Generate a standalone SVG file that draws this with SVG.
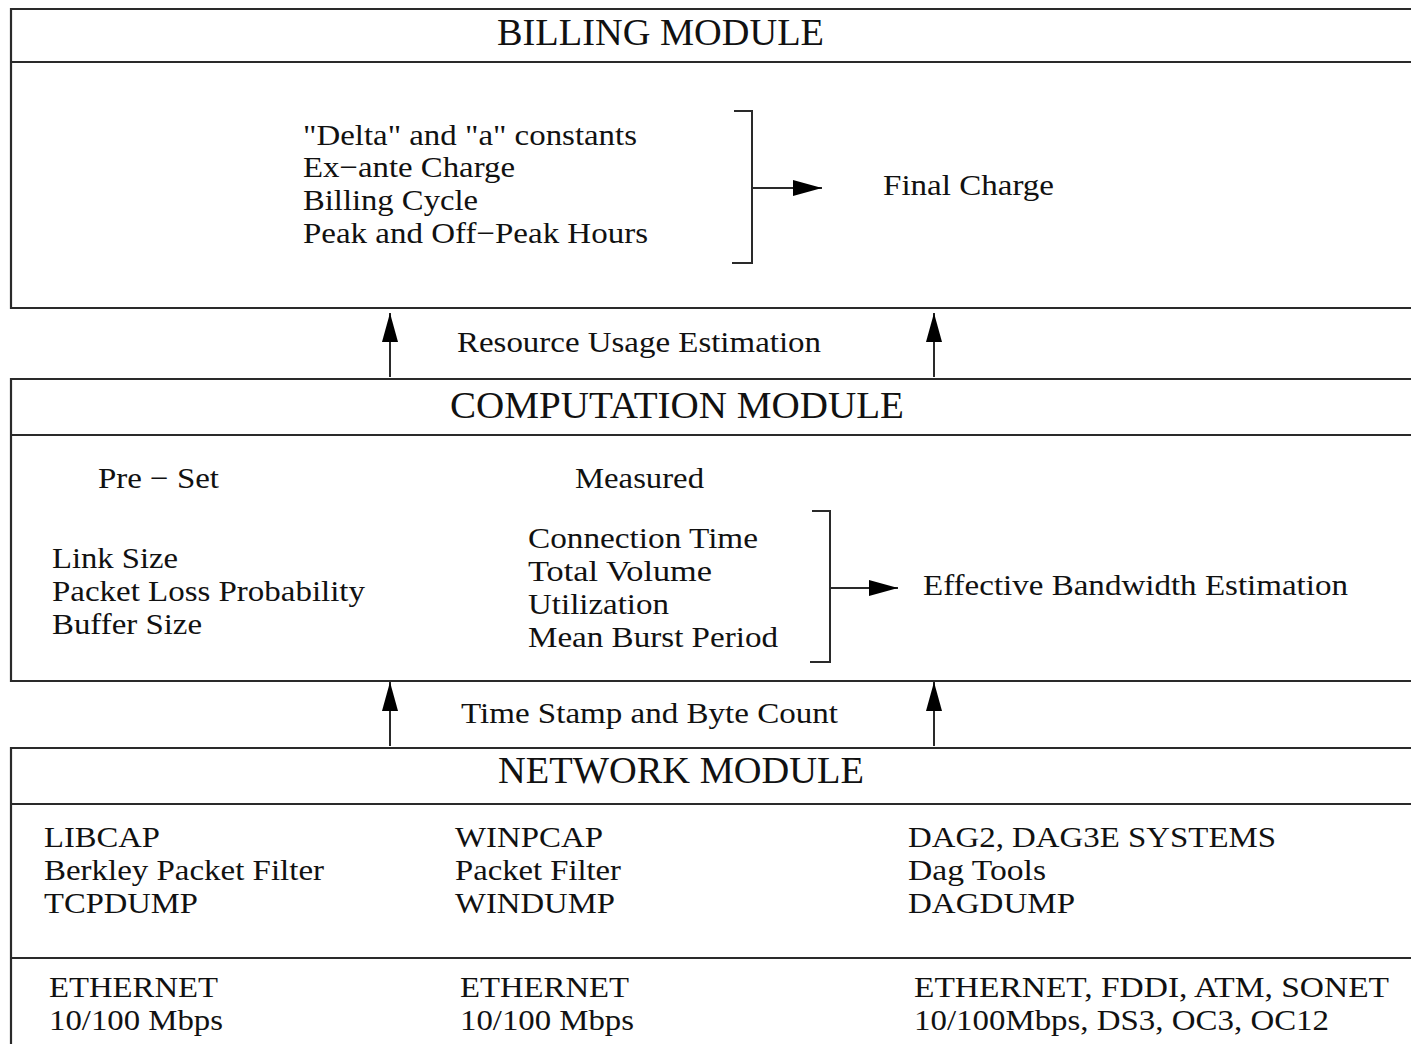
<svg xmlns="http://www.w3.org/2000/svg" width="1411" height="1044" viewBox="0 0 1411 1044">
<style>
.box{fill:none;stroke:#2a2a2a;stroke-width:2.2}
.ln{fill:none;stroke:#2a2a2a;stroke-width:2}
.t{font-family:"Liberation Serif","Times New Roman",serif;font-size:30px;fill:#111}
.h{font-family:"Liberation Serif","Times New Roman",serif;font-size:38px;fill:#111}
</style>
<defs>
<marker id="ah" markerWidth="29" markerHeight="16" refX="29" refY="8" orient="auto" markerUnits="userSpaceOnUse">
<path d="M0,0 L29,8 L0,16 Z" fill="#000"/>
</marker>
</defs>
<rect width="1411" height="1044" fill="#fff"/>
<g id="billing">
<path class="box" d="M1413,9 H11 V308 H1413 M11,62 H1413"/>
<text class="h" x="497" y="45" textLength="327" lengthAdjust="spacingAndGlyphs">BILLING MODULE</text>
<text class="t" x="303" y="145" textLength="334" lengthAdjust="spacingAndGlyphs">"Delta" and "a" constants</text>
<text class="t" x="303" y="177" textLength="212" lengthAdjust="spacingAndGlyphs">Ex−ante Charge</text>
<text class="t" x="303" y="210" textLength="175" lengthAdjust="spacingAndGlyphs">Billing Cycle</text>
<text class="t" x="303" y="243" textLength="345" lengthAdjust="spacingAndGlyphs">Peak and Off−Peak Hours</text>
<path class="ln" d="M734,111 H752 V263 H732"/>
<text class="t" x="883" y="195" textLength="171" lengthAdjust="spacingAndGlyphs">Final Charge</text>
</g>
<g id="computation">
<path class="box" d="M1413,379 H11 V681 H1413 M11,435 H1413"/>
<text class="h" x="450" y="418" textLength="454" lengthAdjust="spacingAndGlyphs">COMPUTATION MODULE</text>
<text class="t" x="98" y="488" textLength="121" lengthAdjust="spacingAndGlyphs">Pre − Set</text>
<text class="t" x="575" y="488" textLength="129" lengthAdjust="spacingAndGlyphs">Measured</text>
<text class="t" x="52" y="568" textLength="126" lengthAdjust="spacingAndGlyphs">Link Size</text>
<text class="t" x="52" y="601" textLength="313" lengthAdjust="spacingAndGlyphs">Packet Loss Probability</text>
<text class="t" x="52" y="634" textLength="150" lengthAdjust="spacingAndGlyphs">Buffer Size</text>
<text class="t" x="528" y="548" textLength="230" lengthAdjust="spacingAndGlyphs">Connection Time</text>
<text class="t" x="528" y="581" textLength="184" lengthAdjust="spacingAndGlyphs">Total Volume</text>
<text class="t" x="528" y="614" textLength="141" lengthAdjust="spacingAndGlyphs">Utilization</text>
<text class="t" x="528" y="647" textLength="250" lengthAdjust="spacingAndGlyphs">Mean Burst Period</text>
<path class="ln" d="M812,511 H830 V662 H810"/>
<text class="t" x="923" y="595" textLength="425" lengthAdjust="spacingAndGlyphs">Effective Bandwidth Estimation</text>
</g>
<g id="network">
<path class="box" d="M1413,748 H11 V1046 M11,804 H1413 M11,958 H1413"/>
<text class="h" x="498" y="783" textLength="366" lengthAdjust="spacingAndGlyphs">NETWORK MODULE</text>
<text class="t" x="44" y="847" textLength="116" lengthAdjust="spacingAndGlyphs">LIBCAP</text>
<text class="t" x="44" y="880" textLength="280" lengthAdjust="spacingAndGlyphs">Berkley Packet Filter</text>
<text class="t" x="44" y="913" textLength="154" lengthAdjust="spacingAndGlyphs">TCPDUMP</text>
<text class="t" x="455" y="847" textLength="148" lengthAdjust="spacingAndGlyphs">WINPCAP</text>
<text class="t" x="455" y="880" textLength="166" lengthAdjust="spacingAndGlyphs">Packet Filter</text>
<text class="t" x="455" y="913" textLength="160" lengthAdjust="spacingAndGlyphs">WINDUMP</text>
<text class="t" x="908" y="847" textLength="368" lengthAdjust="spacingAndGlyphs">DAG2, DAG3E SYSTEMS</text>
<text class="t" x="908" y="880" textLength="138" lengthAdjust="spacingAndGlyphs">Dag Tools</text>
<text class="t" x="908" y="913" textLength="167" lengthAdjust="spacingAndGlyphs">DAGDUMP</text>
<text class="t" x="49" y="997" textLength="169" lengthAdjust="spacingAndGlyphs">ETHERNET</text>
<text class="t" x="49" y="1030" textLength="174" lengthAdjust="spacingAndGlyphs">10/100 Mbps</text>
<text class="t" x="460" y="997" textLength="169" lengthAdjust="spacingAndGlyphs">ETHERNET</text>
<text class="t" x="460" y="1030" textLength="174" lengthAdjust="spacingAndGlyphs">10/100 Mbps</text>
<text class="t" x="914" y="997" textLength="475" lengthAdjust="spacingAndGlyphs">ETHERNET, FDDI, ATM, SONET</text>
<text class="t" x="914" y="1030" textLength="415" lengthAdjust="spacingAndGlyphs">10/100Mbps, DS3, OC3, OC12</text>
</g>
<g id="labels">
<text class="t" x="457" y="352" textLength="364" lengthAdjust="spacingAndGlyphs">Resource Usage Estimation</text>
<text class="t" x="461" y="723" textLength="377" lengthAdjust="spacingAndGlyphs">Time Stamp and Byte Count</text>
</g>
<g id="connectors">
<path class="ln" d="M752,188 H822" marker-end="url(#ah)"/>
<path class="ln" d="M830,588 H898" marker-end="url(#ah)"/>
<path class="ln" d="M390,377 V313" marker-end="url(#ah)"/>
<path class="ln" d="M934,377 V313" marker-end="url(#ah)"/>
<path class="ln" d="M390,746 V682" marker-end="url(#ah)"/>
<path class="ln" d="M934,746 V682" marker-end="url(#ah)"/>
</g>
</svg>
